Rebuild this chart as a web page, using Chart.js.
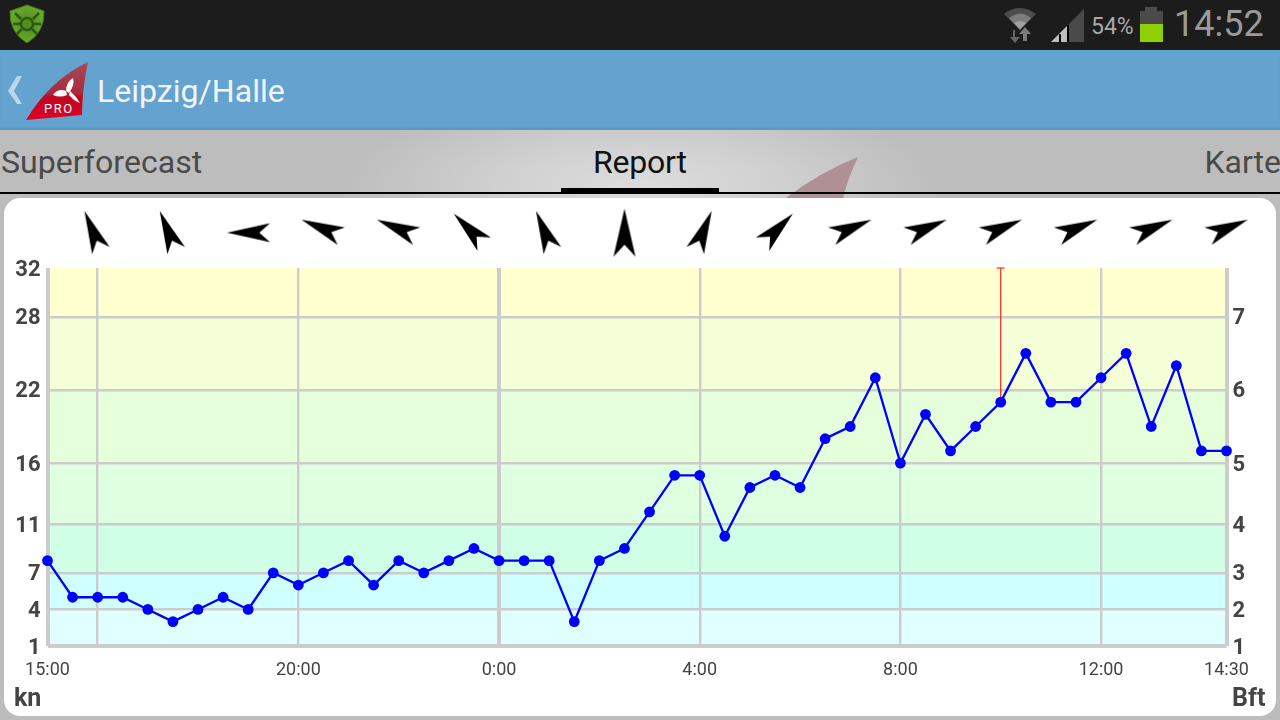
<!DOCTYPE html>
<html>
<head>
<meta charset="utf-8">
<title>Leipzig/Halle</title>
<script src="https://cdn.jsdelivr.net/npm/chart.js@4"></script>
<style>
  html, body { margin:0; padding:0; width:1280px; height:720px; overflow:hidden; background:#bcbcbc; font-family:Roboto, sans-serif; }
  .abs { position:absolute; white-space:nowrap; line-height:1; }
  #status { position:absolute; left:0; top:0; width:1280px; height:50px; background:#1c1c1c; }
  #bar { position:absolute; left:0; top:50px; width:1280px; height:80px; background:#64a2d0; box-shadow:inset 0 -3px 2px -1px #5b94be; }
  #tabs { position:absolute; left:0; top:130px; width:1280px; height:68px; overflow:hidden;
    background:radial-gradient(ellipse 300px 90px at 640px 55px, #dcdcdc 0%, #d2d2d2 40%, #bdbdbd 100%); }
  #card { position:absolute; left:4px; top:198px; width:1272px; height:518px; background:#fff; border-radius:16px; }
  #chartWrap { position:absolute; left:0; top:198px; width:1280px; height:522px; }
</style>
</head>
<body>
<div id="status"></div>
<svg class="abs" style="left:0;top:0" width="1280" height="50">
  <defs><radialGradient id="sh"><stop offset="0" stop-color="#4f8a1c"/><stop offset="1" stop-color="#6aa82a"/></radialGradient></defs>
  <path d="M27 5 L44 11 Q45 32 27 43 Q9 32 10 11 Z" fill="url(#sh)" stroke="#3f7a18" stroke-width="1"/>
  <g fill="none" stroke="#2c5a14" stroke-width="2.5">
    <circle cx="27" cy="24" r="6"/>
    <path d="M15 13 L21 19 M39 13 L33 19 M13 24 L20 24 M41 24 L34 24 M17 34 L22 29 M37 34 L32 29"/>
  </g>
  <path d="M1004 14 Q1020 2 1036 14 L1020 30 Z" fill="#4c4c4c"/>
  <path d="M1009 18 Q1020 9 1031 18 L1020 30 Z" fill="#7c7c7c"/>
  <path d="M1014 23 Q1020 19 1026 23 L1020 29 Z" fill="#a0a0a0"/>
  <polygon points="1015,30 1015,37 1020,37 1015,43 1010,37 1013,37 1013,30" fill="#666"/>
  <polygon points="1025,27 1031,34 1027,34 1027,41 1023,41 1023,34 1019,34" fill="#7c7c7c"/>
  <polygon points="1051,42 1084,9 1084,42" fill="#4a4a4a"/>
  <polygon points="1051,42 1068,25 1068,42" fill="#bdbdbd"/>
  <rect x="1059" y="34" width="2" height="8" fill="#000"/><rect x="1067" y="25" width="2" height="17" fill="#000"/>
  <rect x="1145" y="7" width="12" height="6" fill="#4a4a4a"/><rect x="1140" y="11" width="23" height="13" fill="#4a4a4a"/>
  <rect x="1140" y="24" width="23" height="18" fill="#90d000"/>
</svg>
<div class="abs" style="left:1091px;top:15px;font-size:23px;color:#a8a8a8">54%</div>
<div class="abs" style="left:1174px;top:6px;font-size:36px;color:#9a9a9a">14:52</div>

<div id="bar"></div>
<svg class="abs" style="left:0;top:50px" width="100" height="80">
  <defs><linearGradient id="sail" x1="0" y1="0" x2="0" y2="1"><stop offset="0" stop-color="#a84a58"/><stop offset="0.55" stop-color="#a92a3c"/><stop offset="0.6" stop-color="#c00820"/><stop offset="1" stop-color="#e00024"/></linearGradient></defs>
  <polygon points="8,41 17,26 22,26 14,41 22,54 17,54" fill="#b9d6ea"/>
  <path d="M88 12 Q50 30 26 70 L82 65 Q82 40 88 12 Z" fill="url(#sail)"/>
  <g fill="#fff"><path d="M69 43 Q75 35 73 28 Q66 32 66 41 Z"/><path d="M66 41 Q58 38 53 45 Q60 48 67 45 Z"/><path d="M69 45 Q74 51 80 53 Q76 46 70 41 Z"/></g>
  <text x="44" y="63" font-size="13" fill="#fff" font-family="Roboto" letter-spacing="1.5">PRO</text>
</svg>
<div class="abs" style="left:97px;top:75px;font-size:32.1px;color:#f1f5f9">Leipzig/Halle</div>

<div id="tabs">
  <svg class="abs" style="left:0;top:0" width="1280" height="68">
    <path d="M858 27 Q820 42 786 68 L843 68 Q848 48 858 27 Z" fill="#b09094"/>
    <rect x="0" y="62" width="1280" height="2" fill="#000"/>
    <rect x="561" y="58" width="158" height="6" fill="#000"/>
  </svg>
  <div class="abs" style="left:1px;top:16px;font-size:32.1px;color:#4a4a4a">Superforecast</div>
  <div class="abs" style="left:593px;top:16px;font-size:32px;letter-spacing:-0.2px;color:#111">Report</div>
  <div class="abs" style="left:1204.5px;top:16px;font-size:32px;color:#4a4a4a">Karte</div>
</div>
<div id="card"></div>
<div id="chartWrap"><canvas id="windChart" width="1280" height="522"></canvas></div>
<div class="abs" style="left:14px;top:685px;font-size:25px;font-weight:700;color:#444">kn</div>
<div class="abs" style="left:1232px;top:685px;font-size:25px;font-weight:700;color:#444">Bft</div>

<script>
// half hour steps from 15:00
const steps = [0,1,2,3,4,5,6,7,8,9,10,11,12,13,14,15,16,17,18,19,20,21,22,23,24,25,26,27,28,29,30,31,32,33,34,35,36,37,38,39,40,41,42,43,44,45,46,47];
const windKn = [8,5,5,5,4,3,4,5,4,7,6,7,8,6,8,7,8,9,8,8,8,3,8,9,12,15,15,10,14,15,14,18,19,23,16,20,17,19,21,25,21,21,23,25,19,24,17,17];

const gustStep = [38,38];
const gustKn = [21,32];

const arrowSteps = [2,5,8,11,14,17,20,23,26,29,32,35,38,41,44,47];
const arrowHeading = [337.5,337.5,270,292.5,292.5,315,337.5,0,22.5,45,67.5,67.5,67.5,67.5,67.5,67.5];

const knTicks = [1,4,7,11,16,22,28,32];
const bftTicks = [1,4,7,11,16,22,28];
const bftLabels = ["1","2","3","4","5","6","7"];

const timeTicks = [0,2,10,18,26,34,42,47];
const timeLabels = ["15:00","","20:00","0:00","4:00","8:00","12:00","14:30"];

const bandEdges = [1,4,7,11,16,22,28,32];
const bandColors = ["#e0ffff","#cfffff","#d0ffe8","#deffe0","#e6ffdb","#f4ffd8","#ffffd0"];

const gridColor = "#cccccc";
const labelColor = "#444444";
const arrowRow = 34.9; // kn level just above the plot, arrows sit there

// the original arrows are rotated bitmaps, each heading sits a little off centre
const arrowNudge = {0:[0,0], 22.5:[3.7,-2], 45:[2.7,-3.7], 67.5:[1.4,-4.7], 270:[0.4,0], 292.5:[-2,-4.7], 315:[-5,-3.7], 337.5:[-5,-2]};

function arrowSprite(heading) {
  const c = document.createElement("canvas");
  c.width = 70; c.height = 70;
  const g = c.getContext("2d");
  const len = heading===0 ? 48 : 43;
  const wid = heading===0 ? 22 : 19;
  const [dx,dy] = arrowNudge[heading];
  g.translate(35+dx, 35+dy);
  g.rotate(heading*Math.PI/180);
  g.fillStyle = "#000";
  g.beginPath();
  g.moveTo(0,-len/2);
  g.lineTo(wid/2,len/2);
  g.lineTo(0,len/4);
  g.lineTo(-wid/2,len/2);
  g.closePath();
  g.fill();
  return c;
}

// y tick labels sit a bit lower than the canvas "middle" baseline puts them
function nudgeLabels(axis) {
  if(axis.nudged) return;
  axis.nudged = true;
  const draw = axis.drawLabels;
  axis.drawLabels = function(area) {
    this.ctx.save();
    this.ctx.translate(0, 2);
    draw.call(this, area);
    this.ctx.restore();
  };
}

const bands = {
  id:"bands",
  beforeDraw(chart) {
    const {ctx, chartArea:a, scales} = chart;
    ctx.save();
    bandColors.forEach((col,i) => {
      const y1 = scales.y.getPixelForValue(bandEdges[i+1]);
      const y0 = scales.y.getPixelForValue(bandEdges[i]);
      ctx.fillStyle = col;
      ctx.fillRect(a.left, y1, a.width, y0-y1);
    });
    ctx.restore();
  }
};

// the arrow row is above the plot area, where the point elements skip themselves
const arrowRowPlugin = {
  id:"arrowRowPlugin",
  afterDatasetsDraw(chart) {
    const whole = {left:0, top:0, right:chart.width, bottom:chart.height};
    chart.getDatasetMeta(2).data.forEach(p => p.draw(chart.ctx, whole));
  }
};

new Chart(document.getElementById("windChart"), {
  type:"line",
  plugins:[bands, arrowRowPlugin],
  data:{
    datasets:[
      {
        data: steps.map((s,i)=>({x:s, y:windKn[i]})),
        borderColor:"#0000ff", backgroundColor:"#0000ff", borderWidth:2.3,
        pointRadius:5.4, pointBorderWidth:0, tension:0, clip:false
      },
      {
        data: gustStep.map((s,i)=>({x:s, y:gustKn[i]})),
        borderColor:"#ff0000", borderWidth:1, tension:0, clip:false,
        pointStyle:"line", pointRadius:[0,4], pointBorderColor:"#ff0000", pointBorderWidth:1
      },
      {
        data: arrowSteps.map(s=>({x:s, y:arrowRow})),
        showLine:false, clip:false,
        pointStyle:arrowHeading.map(arrowSprite), pointRadius:20
      }
    ]
  },
  options:{
    responsive:false,
    animation:false,
    events:[],
    layout:{padding:{left:0,right:0,top:70,bottom:0}},
    plugins:{legend:{display:false}, tooltip:{enabled:false}},
    scales:{
      x:{
        type:"linear", min:0, max:47,
        afterBuildTicks: a => { a.ticks = timeTicks.map(v=>({value:v})); },
        afterFit: a => { a.height = 74; },
        ticks:{
          autoSkip:false, maxRotation:0, padding:14, color:labelColor,
          font:{family:"Roboto", size:18},
          callback:(v,i)=>timeLabels[i]
        },
        grid:{
          color:gridColor, drawTicks:false,
          lineWidth: c => (c.index===0 || c.index===timeTicks.length-1) ? 4 : (c.index===3 ? 4 : 2.4)
        },
        border:{display:false}
      },
      y:{
        position:"left", min:1, max:32,
        afterBuildTicks: a => { a.ticks = knTicks.map(v=>({value:v})); },
        afterFit: a => { a.width = 47.5; nudgeLabels(a); },
        ticks:{
          autoSkip:false, padding:7, color:labelColor,
          font:{family:"Roboto", size:22, weight:"bold"},
          callback:v=>String(v)
        },
        grid:{
          color:gridColor, drawTicks:false,
          lineWidth: c => c.index===0 ? 4 : (c.index===knTicks.length-1 ? 0 : 2.4)
        },
        border:{display:false}
      },
      bft:{
        position:"right", min:1, max:32,
        afterBuildTicks: a => { a.ticks = bftTicks.map(v=>({value:v})); },
        afterFit: a => { a.width = 53.5; nudgeLabels(a); },
        ticks:{
          autoSkip:false, padding:6, color:labelColor,
          font:{family:"Roboto", size:22, weight:"bold"},
          callback:(v,i)=>bftLabels[i]
        },
        grid:{display:false, drawTicks:false},
        border:{display:false}
      }
    }
  }
});
</script>
</body>
</html>
